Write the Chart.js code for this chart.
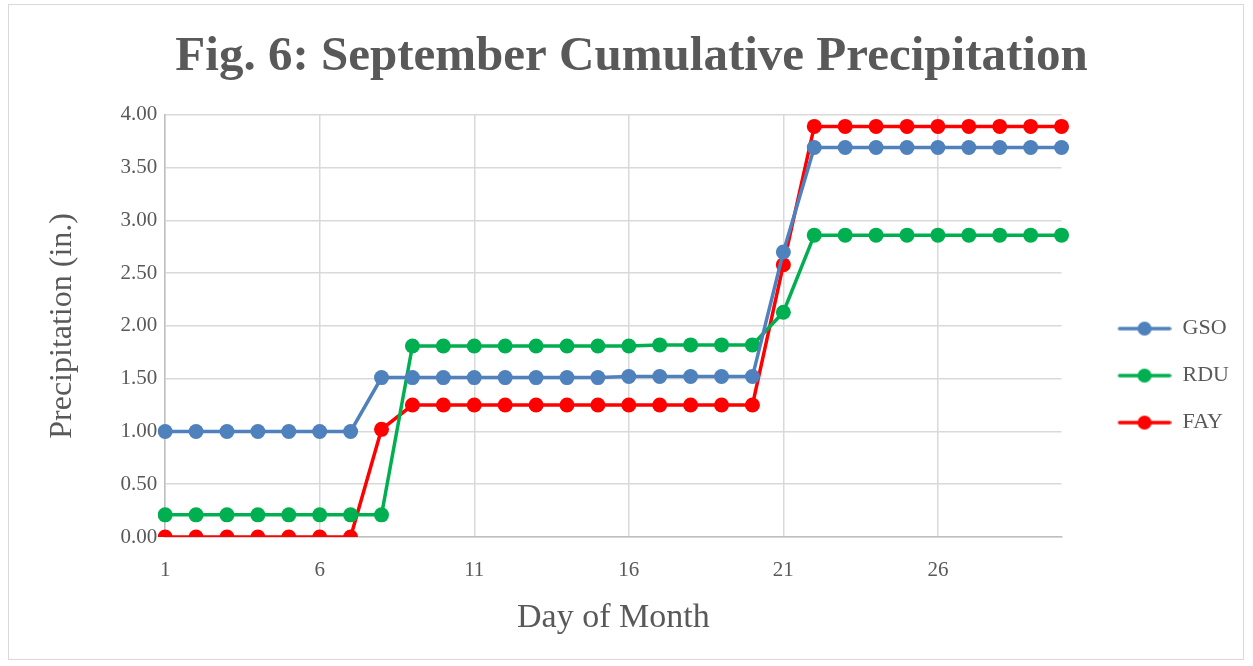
<!DOCTYPE html>
<html>
<head>
<meta charset="utf-8">
<script src="https://cdn.jsdelivr.net/npm/chart.js@4"></script>
<style>
  html, body { margin: 0; padding: 0; background: #fff; }
  #wrap { position: relative; width: 1253px; height: 666px; }
  #frame { position: absolute; left: 8px; top: 4px; width: 1236px; height: 656px; border: 1px solid #d9d9d9; box-sizing: border-box; }
  canvas { position: absolute; left: 0; top: 0; }
</style>
</head>
<body>
<div id="wrap">
  <div id="frame"></div>
  <canvas id="chart" width="1253" height="666"></canvas>
</div>
<script>
// Day of month, 1..30
const days = [1, 2, 3, 4, 5, 6, 7, 8, 9, 10, 11, 12, 13, 14, 15, 16, 17, 18, 19, 20, 21, 22, 23, 24, 25, 26, 27, 28, 29, 30];

// Cumulative precipitation (in.)
const gso = [1.00, 1.00, 1.00, 1.00, 1.00, 1.00, 1.00, 1.51, 1.51, 1.51, 1.51, 1.51, 1.51, 1.51, 1.51, 1.52, 1.52, 1.52, 1.52, 1.52, 2.70, 3.69, 3.69, 3.69, 3.69, 3.69, 3.69, 3.69, 3.69, 3.69];
const rdu = [0.21, 0.21, 0.21, 0.21, 0.21, 0.21, 0.21, 0.21, 1.81, 1.81, 1.81, 1.81, 1.81, 1.81, 1.81, 1.81, 1.82, 1.82, 1.82, 1.82, 2.13, 2.86, 2.86, 2.86, 2.86, 2.86, 2.86, 2.86, 2.86, 2.86];
const fay = [0.00, 0.00, 0.00, 0.00, 0.00, 0.00, 0.00, 1.02, 1.25, 1.25, 1.25, 1.25, 1.25, 1.25, 1.25, 1.25, 1.25, 1.25, 1.25, 1.25, 2.58, 3.89, 3.89, 3.89, 3.89, 3.89, 3.89, 3.89, 3.89, 3.89];

const seriesNames = ['GSO', 'RDU', 'FAY'];
const seriesColors = ['#4f81bd', '#00b050', '#ff0000'];

const textColor = '#595959';
const gridColor = '#d9d9d9';
const serif = "'Liberation Serif', 'DejaVu Serif', serif";

// legend marker: short line with a dot in the middle (left part left blank as a gap)
const markerGap = 31;
function legendMarker(color) {
    const c = document.createElement('canvas');
    c.width = 54 + markerGap;
    c.height = 16;
    const g = c.getContext('2d');
    g.strokeStyle = color;
    g.lineWidth = 3.5;
    g.lineCap = 'round';
    g.beginPath();
    g.moveTo(markerGap + 2, 8);
    g.lineTo(markerGap + 52, 8);
    g.stroke();
    g.fillStyle = color;
    g.beginPath();
    g.arc(markerGap + 27, 8, 7, 0, Math.PI * 2);
    g.fill();
    return c;
}

const datasets = [gso, rdu, fay].map((values, i) => ({
    label: seriesNames[i],
    data: values,
    borderColor: seriesColors[i],
    backgroundColor: seriesColors[i],
    borderWidth: 3.5,
    pointRadius: 7.5,
    pointHoverRadius: 7.5,
    pointBorderWidth: 0,
    pointStyle: 'circle',
    tension: 0,
    fill: false
}));

new Chart(document.getElementById('chart'), {
    type: 'line',
    data: {
        labels: days.map(String),
        datasets: datasets
    },
    options: {
        responsive: false,
        animation: false,
        layout: {
            padding: { left: 24, right: 14, top: 28, bottom: 28 }
        },
        plugins: {
            title: {
                display: true,
                text: 'Fig. 6: September Cumulative Precipitation',
                color: textColor,
                font: { family: serif, size: 49, weight: 'bold' },
                padding: { top: 0, bottom: 28 }
            },
            legend: {
                position: 'right',
                align: 'center',
                title: {
                    // blank title only pushes the entries down a bit
                    display: true,
                    text: ' ',
                    font: { size: 1 },
                    padding: { top: 0, bottom: 84 }
                },
                labels: {
                    color: textColor,
                    font: { family: serif, size: 22 },
                    usePointStyle: true,
                    pointStyleWidth: 54 + markerGap,
                    padding: 25,
                    generateLabels: function(chart) {
                        return chart.data.datasets.map((ds, i) => ({
                            text: ds.label,
                            fillStyle: ds.borderColor,
                            strokeStyle: ds.borderColor,
                            fontColor: textColor,
                            pointStyle: legendMarker(ds.borderColor),
                            datasetIndex: i,
                            hidden: false
                        }));
                    }
                }
            },
            tooltip: { enabled: false }
        },
        scales: {
            x: {
                type: 'category',
                offset: false,
                grid: {
                    color: function(ctx) {
                        return ctx.index % 5 === 0 ? gridColor : 'rgba(0,0,0,0)';
                    },
                    lineWidth: 1.5,
                    drawTicks: false
                },
                border: { color: '#bfbfbf', width: 1.5 },
                ticks: {
                    autoSkip: false,
                    maxRotation: 0,
                    color: textColor,
                    font: { family: serif, size: 21 },
                    padding: 21,
                    callback: function(value, index) {
                        return index % 5 === 0 ? this.getLabelForValue(value) : '';
                    }
                },
                title: {
                    display: true,
                    text: 'Day of Month',
                    color: textColor,
                    font: { family: serif, size: 34 },
                    padding: { top: -7, bottom: 0 }
                }
            },
            y: {
                min: 0,
                max: 4,
                grid: {
                    color: gridColor,
                    lineWidth: 1.5,
                    drawTicks: false
                },
                border: { color: '#bfbfbf', width: 1.5 },
                ticks: {
                    stepSize: 0.5,
                    color: textColor,
                    font: { family: serif, size: 21 },
                    padding: 8,
                    callback: function(value) {
                        return value.toFixed(2);
                    }
                },
                title: {
                    display: true,
                    text: 'Precipitation (in.)',
                    color: textColor,
                    font: { family: serif, size: 32 },
                    padding: { top: 19, bottom: 31 }
                }
            }
        }
    }
});
</script>
</body>
</html>
